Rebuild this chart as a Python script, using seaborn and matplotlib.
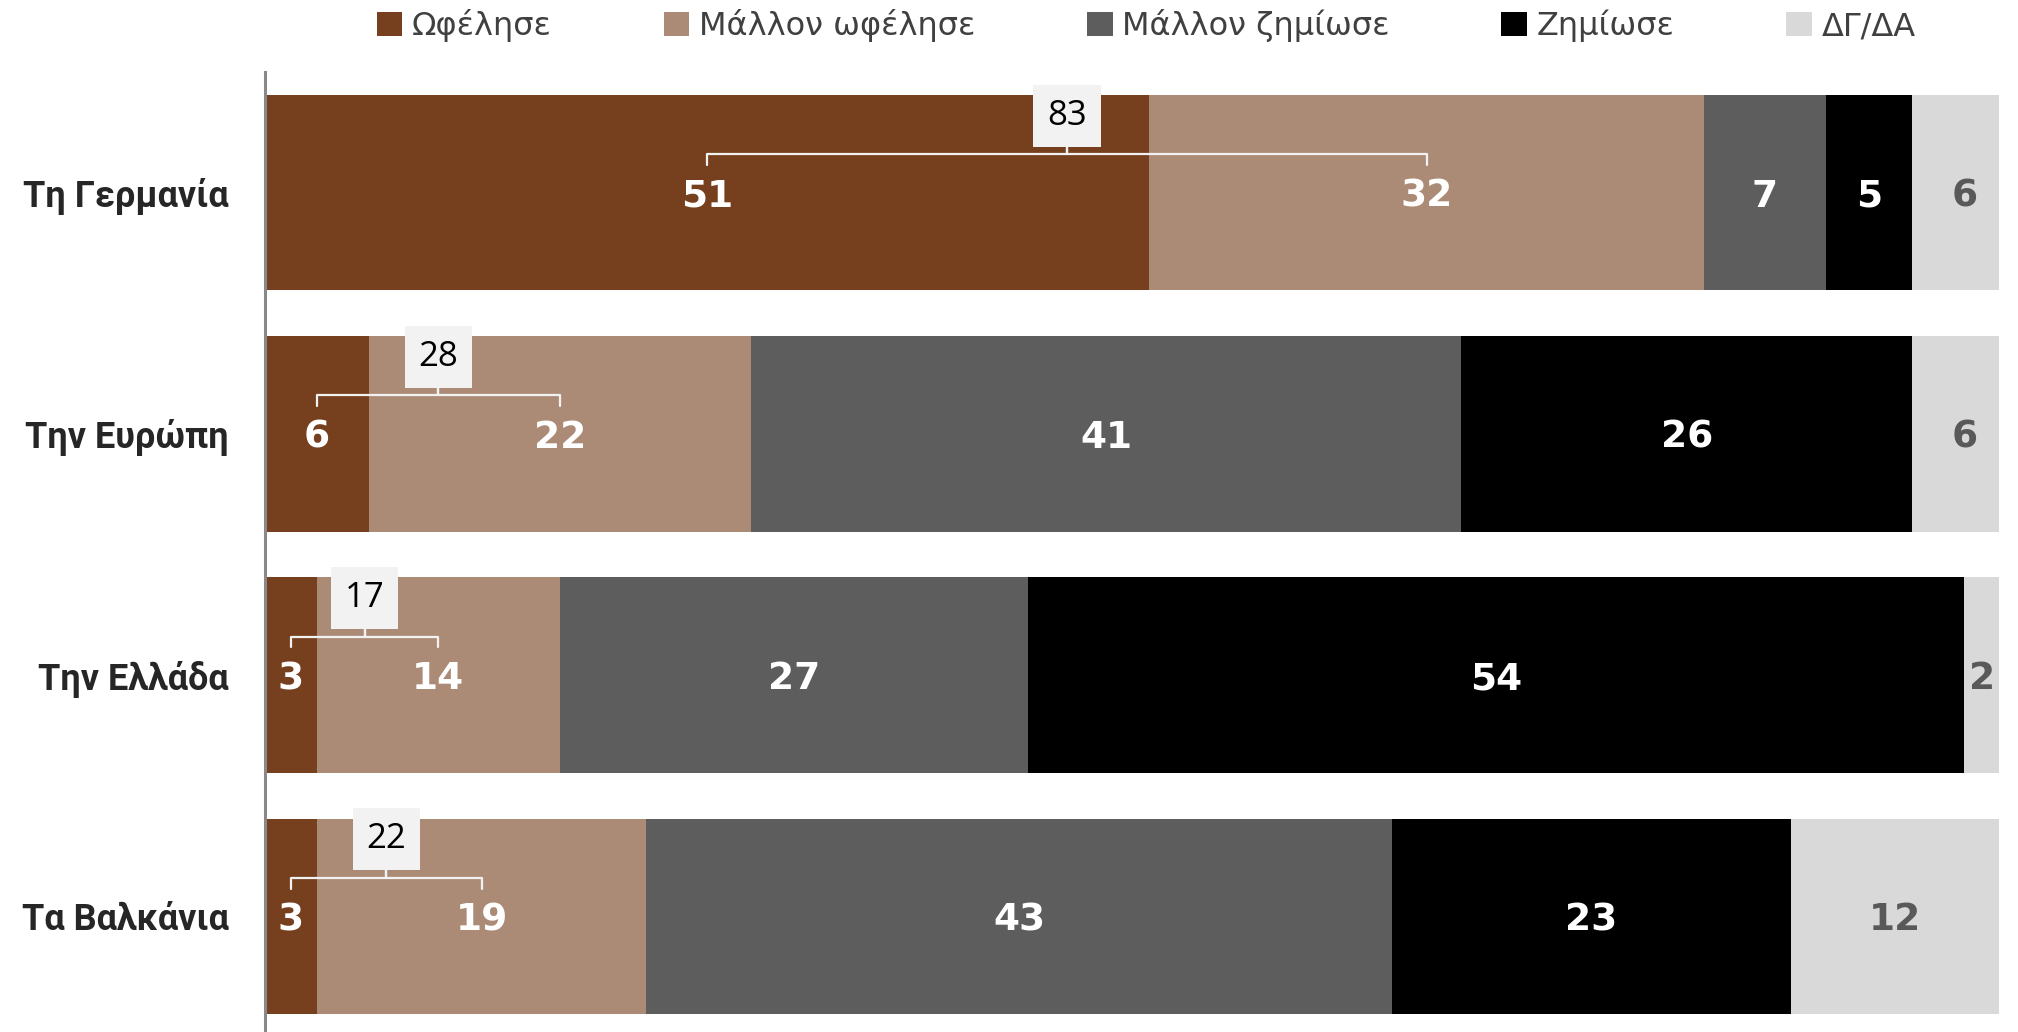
import numpy as np
import pandas as pd
import matplotlib
matplotlib.use("Agg")
import matplotlib.pyplot as plt
from matplotlib.patches import Patch
import seaborn as sns


REGIONS = ["Τη Γερμανία", "Την Ευρώπη", "Την Ελλάδα", "Τα Βαλκάνια"]
SERIES = ["Ωφέλησε", "Μάλλον ωφέλησε", "Μάλλον ζημίωσε", "Ζημίωσε", "ΔΓ/ΔΑ"]

BENEFITED = [51, 6, 3, 3]
RATHER_BENEFITED = [32, 22, 14, 19]
RATHER_HARMED = [7, 41, 27, 43]
HARMED = [5, 26, 54, 23]
DK_NA = [6, 6, 2, 12]
# sum of the two "benefit" answers, shown in the boxes
NET_BENEFIT = [83, 28, 17, 22]

COLORS = ["#76401f", "#ac8b76", "#5d5d5d", "#000000", "#d9d9d9"]
LABEL_COLORS = ["white", "white", "white", "white", "#595959"]

NARROW = ["Liberation Sans Narrow", "DejaVu Sans Condensed", "DejaVu Sans"]

values = [BENEFITED, RATHER_BENEFITED, RATHER_HARMED, HARMED, DK_NA]
rows = []
for name, vals in zip(SERIES, values):
    for region, v in zip(REGIONS, vals):
        rows.append([region, name, v])
df = pd.DataFrame(rows, columns=["region", "series", "value"])
df["cum"] = df.groupby("region", sort=False)["value"].cumsum()
df["mid"] = df["cum"] - df["value"] / 2

sns.set_style("white")
fig, ax = plt.subplots(figsize=(20.18, 10.32), dpi=100)
fig.subplots_adjust(left=0.1313, right=0.9906, bottom=0.0, top=0.930)

# stacked bars: draw cumulative totals from the last series backwards
for name, color in reversed(list(zip(SERIES, COLORS))):
    sub = df[df["series"] == name]
    sns.barplot(data=sub, x="cum", y="region", order=REGIONS, orient="h",
                color=color, saturation=1, width=0.81, errorbar=None,
                linewidth=0, edgecolor="none", ax=ax)

for name, lc in zip(SERIES, LABEL_COLORS):
    sub = df[df["series"] == name]
    for i, region in enumerate(REGIONS):
        r = sub[sub["region"] == region].iloc[0]
        ax.text(r["mid"], i, f"{r['value']:.0f}", ha="center", va="center_baseline",
                color=lc, fontsize=27, fontweight="bold", family=NARROW)

# brackets with the combined "benefit" number
for i, region in enumerate(REGIONS):
    m0 = df[(df["series"] == SERIES[0]) & (df["region"] == region)]["mid"].iloc[0]
    m1 = df[(df["series"] == SERIES[1]) & (df["region"] == region)]["mid"].iloc[0]
    xm = (m0 + m1) / 2
    yl = i - 0.16
    ax.plot([m0, m0, xm, xm, xm, m1, m1],
            [i - 0.115, yl, yl, yl - 0.03, yl, yl, i - 0.115],
            color="#f2f2f2", lw=1.6, solid_joinstyle="round", zorder=4)
    ax.text(xm, i - 0.32, str(NET_BENEFIT[i]), ha="center", va="center",
            fontsize=25, color="black", family="Open Sans", zorder=5,
            bbox=dict(boxstyle="square,pad=0.4", facecolor="#f2f2f2", edgecolor="none"))

ax.set_xlim(0, 100)
ax.set_ylim(3.48, -0.5)
ax.set_xlabel("")
ax.set_ylabel("")
ax.set_xticks([])
ax.tick_params(axis="y", length=0, pad=26)
for lab in ax.get_yticklabels():
    lab.set_fontsize(26)
    lab.set_fontweight("bold")
    lab.set_color("#262626")
    lab.set_family("Roboto")

for side in ["top", "right", "bottom"]:
    ax.spines[side].set_visible(False)
ax.spines["left"].set_color("#898989")
ax.spines["left"].set_linewidth(2.2)

handles = [Patch(facecolor=c, edgecolor="none") for c in COLORS]
fig.legend(handles, SERIES, loc="center", bbox_to_anchor=(0.568, 0.975), ncol=5,
           frameon=False, handlelength=0.8, handleheight=0.8, handletextpad=0.3,
           columnspacing=3.5, labelcolor="#404040",
           prop={"family": NARROW, "size": 23})

fig.savefig("out.png", dpi=100)
